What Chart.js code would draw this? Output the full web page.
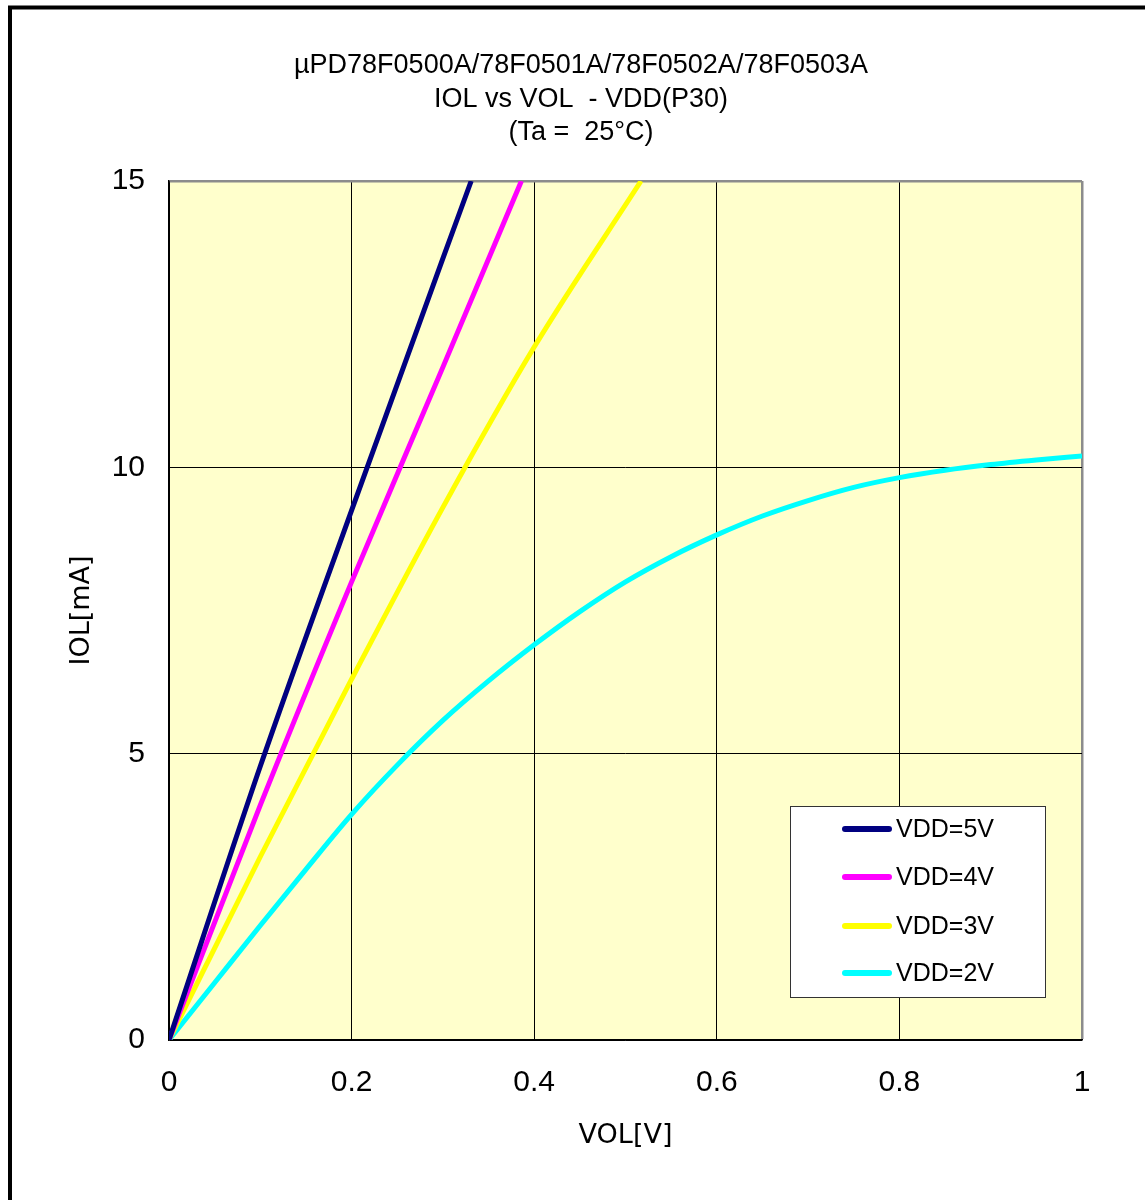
<!DOCTYPE html>
<html lang="en">
<head>
    <meta charset="UTF-8">
    <title>IOL vs VOL</title>
    <script src="https://cdn.jsdelivr.net/npm/chart.js"></script>
    <style>
        body { margin: 0; background: #fff; }
        #wrap { width: 1145px; height: 1200px; }
    </style>
</head>
<body>
    <div id="wrap">
        <canvas id="chart" width="1145" height="1200"></canvas>
    </div>

    <script>
        // chart text
        const titleLines = ['\u00b5PD78F0500A/78F0501A/78F0502A/78F0503A', 'IOL vs VOL  - VDD(P30)', '(Ta =  25\u00b0C)'];
        const xTitle = 'VOL[V]';
        const yTitle = 'IOL[mA]';
        const xTickLabels = ['0', '0.2', '0.4', '0.6', '0.8', '1'];
        const yTickLabels = ['0', '5', '10', '15'];

        // series
        const seriesNames = ['VDD=5V', 'VDD=4V', 'VDD=3V', 'VDD=2V'];
        const seriesColors = ['#000080', '#ff00ff', '#ffff00', '#00ffff'];
        const vol5 = [0, 0.1, 0.2, 0.3, 0.331];
        const iol5 = [0, 4.78, 9.25, 13.65, 15];
        const vol4 = [0, 0.1, 0.2, 0.3, 0.386];
        const iol4 = [0, 4.1, 8.0, 11.75, 15];
        const vol3 = [0, 0.1, 0.2, 0.3, 0.4, 0.517];
        const iol3 = [0, 3.2, 6.3, 9.3, 12.1, 15];
        const vol2 = [0, 0.05, 0.1, 0.15, 0.2, 0.25, 0.3, 0.35, 0.4, 0.45, 0.5, 0.55, 0.6, 0.65, 0.7, 0.75, 0.8, 0.85, 0.9, 0.95, 1.0];
        const iol2 = [0, 1.0, 2.0, 2.98, 3.94, 4.8, 5.58, 6.27, 6.9, 7.48, 8.0, 8.44, 8.82, 9.15, 9.42, 9.65, 9.82, 9.95, 10.05, 10.13, 10.2];

        const xs = [vol5, vol4, vol3, vol2];
        const ys = [iol5, iol4, iol3, iol2];

        const datasets = seriesNames.map((name, i) => ({
            label: name,
            data: xs[i].map((x, j) => ({ x: x, y: ys[i][j] })),
            borderColor: seriesColors[i],
            backgroundColor: seriesColors[i],
            borderWidth: 5,
            pointRadius: 0,
            cubicInterpolationMode: 'monotone',
            fill: false
        }));

        const gray = '#8c8c8c';

        // plot background, page border, title and the boxed legend
        const decor = {
            id: 'decor',
            beforeDraw(chart) {
                const { ctx, chartArea: a } = chart;
                ctx.save();
                ctx.fillStyle = '#ffffcc';
                ctx.fillRect(a.left, a.top, a.right - a.left, a.bottom - a.top);
                ctx.restore();
            },
            afterDraw(chart) {
                const ctx = chart.ctx;
                ctx.save();
                // outer frame
                ctx.strokeStyle = '#000';
                ctx.lineWidth = 4;
                ctx.strokeRect(10, 7.5, 1200, 1250);

                // title
                ctx.fillStyle = '#000';
                ctx.font = '27px "Liberation Sans", Arial, sans-serif';
                ctx.textAlign = 'center';
                ctx.textBaseline = 'middle';
                titleLines.forEach((t, i) => ctx.fillText(t, 581, 66 + i * 33.5));

                // legend box
                ctx.fillStyle = '#fff';
                ctx.fillRect(790, 806, 255, 191);
                ctx.strokeStyle = '#333';
                ctx.lineWidth = 1;
                ctx.strokeRect(790.5, 806.5, 255, 191);
                const rows = [829, 877, 926, 973];
                ctx.font = '25px "Liberation Sans", Arial, sans-serif';
                ctx.textAlign = 'left';
                chart.data.datasets.forEach((ds, i) => {
                    ctx.strokeStyle = ds.borderColor;
                    ctx.lineWidth = 6;
                    ctx.lineCap = 'round';
                    ctx.beginPath();
                    ctx.moveTo(845, rows[i]);
                    ctx.lineTo(889, rows[i]);
                    ctx.stroke();
                    ctx.fillStyle = '#000';
                    ctx.fillText(ds.label, 896, rows[i] + 1);
                });
                ctx.restore();
            }
        };

        const ctx = document.getElementById('chart').getContext('2d');
        const chart = new Chart(ctx, {
            type: 'line',
            data: { datasets: datasets },
            options: {
                responsive: false,
                animation: false,
                layout: { padding: { top: 181, right: 63, left: 0, bottom: 0 } },
                plugins: {
                    legend: { display: false },
                    title: { display: false },
                    tooltip: { enabled: false }
                },
                scales: {
                    x: {
                        type: 'linear',
                        min: 0,
                        max: 1,
                        afterFit: (s) => { s.height = 160; },
                        ticks: {
                            stepSize: 0.2,
                            padding: 25,
                            color: '#000',
                            maxRotation: 0,
                            font: { family: '"Liberation Sans", Arial, sans-serif', size: 30 },
                            callback: (v, i) => xTickLabels[i]
                        },
                        grid: {
                            drawTicks: false,
                            color: (c) => (c.tick && c.tick.value === 1 ? gray : '#000'),
                            lineWidth: (c) => (c.tick && c.tick.value === 1 ? 2.5 : 1)
                        },
                        border: { color: '#000', width: 1.5 },
                        title: {
                            display: true,
                            text: xTitle,
                            color: '#000',
                            font: { family: '"DejaVu Sans", sans-serif', size: 27 },
                            padding: { top: 0, bottom: 48 }
                        }
                    },
                    y: {
                        type: 'linear',
                        min: 0,
                        max: 15,
                        afterFit: (s) => { s.width = 169; },
                        ticks: {
                            stepSize: 5,
                            padding: 24,
                            color: '#000',
                            font: { family: '"Liberation Sans", Arial, sans-serif', size: 30 },
                            callback: (v, i) => yTickLabels[i]
                        },
                        grid: {
                            drawTicks: false,
                            color: (c) => (c.tick && c.tick.value === 15 ? gray : '#000'),
                            lineWidth: (c) => (c.tick && c.tick.value === 15 ? 2.5 : 1)
                        },
                        border: { color: '#000', width: 1.5 },
                        title: {
                            display: true,
                            text: yTitle,
                            color: '#000',
                            font: { family: '"DejaVu Sans", sans-serif', size: 27 },
                            padding: { top: 66, bottom: 0 }
                        }
                    }
                }
            },
            plugins: [decor]
        });
    </script>
</body>
</html>
